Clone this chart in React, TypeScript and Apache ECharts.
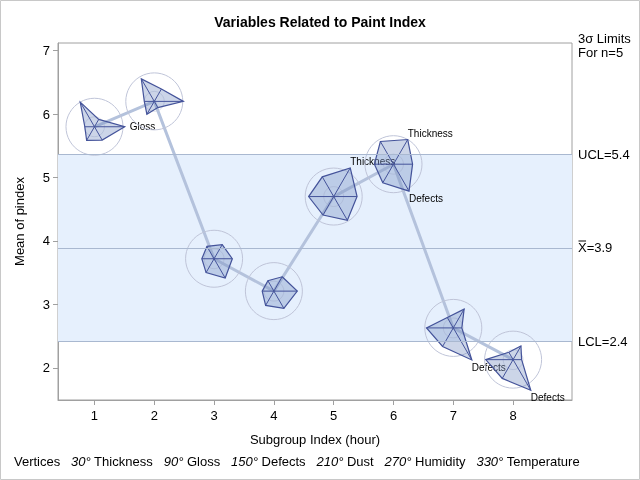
import React, { useEffect, useRef } from "react";
import * as echarts from "echarts";

const subgroups = [1, 2, 3, 4, 5, 6, 7, 8];
const means = [5.8, 6.2, 3.72, 3.21, 4.7, 5.21, 2.63, 2.13];
// vertex lengths relative to the reference circle radius
const thickness = [0.3, 0.5, 0.57, 0.58, 1.16, 1.0, 0.76, 0.55];
const gloss = [1.06, 1.02, 0.64, 0.82, 0.82, 0.67, 0.3, 0.3];
const defects = [0.54, 0.25, 0.78, 0.7, 0.96, 1.09, 1.3, 1.24];
const dust = [0.55, 0.52, 0.56, 0.58, 0.75, 0.75, 0.75, 0.76];
const humidity = [0.34, 0.35, 0.43, 0.41, 0.88, 0.67, 0.94, 0.96];
const temperature = [1.0, 0.91, 0.5, 0.42, 0.8, 0.92, 0.42, 0.3];
const vertexNames = ["Thickness", "Gloss", "Defects", "Dust", "Humidity", "Temperature"];
const vertexAngles = [30, 90, 150, 210, 270, 330];
const flagged = [["Gloss"], [], [], [], ["Thickness"], ["Thickness", "Defects"], ["Defects"], ["Defects"]];
const UCL = 5.36;
const CENTER = 3.89;
const LCL = 2.42;
const xTicks = [1, 2, 3, 4, 5, 6, 7, 8];
const yTicks = [2, 3, 4, 5, 6, 7];

const FONT = "'Liberation Sans', Arial, sans-serif";

export default function App() {
  const ref = useRef<HTMLDivElement>(null);
  useEffect(() => {
    if (!ref.current) return;
    const chart = echarts.init(ref.current, null, { renderer: "svg" });
    const R = 28.5;
    const starData = subgroups.map((x, i) => [
      x,
      means[i],
      thickness[i],
      gloss[i],
      defects[i],
      dust[i],
      humidity[i],
      temperature[i],
    ]);
    const renderItem = (params: any, api: any) => {
      const i = params.dataIndex;
      const c = api.coord([api.value(0), api.value(1)]);
      const pts: number[][] = [];
      for (let k = 0; k < 6; k++) {
        const a = (vertexAngles[k] * Math.PI) / 180;
        const r = api.value(2 + k) * R;
        pts.push([c[0] + Math.sin(a) * r, c[1] - Math.cos(a) * r]);
      }
      const children: any[] = [];
      children.push({
        type: "circle",
        shape: { cx: c[0], cy: c[1], r: R },
        style: { fill: "none", stroke: "#bfc4d8", lineWidth: 1 },
      });
      children.push({
        type: "circle",
        shape: { cx: c[0], cy: c[1], r: R * 0.35 },
        style: { fill: "none", stroke: "rgba(188,194,214,0.5)", lineWidth: 1 },
      });
      children.push({
        type: "polygon",
        shape: { points: pts },
        style: { fill: "rgba(120,145,195,0.38)", stroke: "#44539a", lineWidth: 1.2 },
      });
      pts.forEach((p) => {
        children.push({
          type: "line",
          shape: { x1: c[0], y1: c[1], x2: p[0], y2: p[1] },
          style: { stroke: "#44539a", lineWidth: 1 },
        });
      });
      flagged[i].forEach((name) => {
        const k = vertexNames.indexOf(name);
        const p = pts[k];
        let x = p[0];
        let y = p[1];
        let va = "middle";
        if (name === "Gloss") {
          x += 5;
        } else if (name === "Thickness") {
          y -= 1;
          va = "bottom";
        } else {
          y += 2;
          va = "top";
        }
        children.push({
          type: "text",
          x,
          y,
          style: {
            text: name,
            fill: "#000",
            font: `10px ${FONT}`,
            align: "left",
            verticalAlign: va,
          },
        });
      });
      return { type: "group", children };
    };

    chart.setOption({
      animation: false,
      textStyle: { fontFamily: FONT },
      title: {
        text: "Variables Related to Paint Index",
        left: "center",
        top: 10,
        textStyle: { fontSize: 14, fontWeight: "bold", color: "#000", fontFamily: FONT },
      },
      grid: {
        left: 58,
        right: 68,
        top: 43,
        bottom: 80,
        show: true,
        borderColor: "#a0a0a0",
        borderWidth: 1,
        backgroundColor: "transparent",
      },
      xAxis: {
        type: "value",
        min: 0.39,
        max: 8.985,
        name: "Subgroup Index (hour)",
        nameLocation: "middle",
        nameGap: 33,
        nameTextStyle: { fontSize: 13, color: "#000", fontFamily: FONT },
        axisLine: { show: true, lineStyle: { color: "#a0a0a0" } },
        axisTick: { show: true, customValues: xTicks, length: 5, lineStyle: { color: "#a0a0a0" } },
        axisLabel: { customValues: xTicks, fontSize: 13, color: "#000", margin: 9, fontFamily: FONT },
        splitLine: { show: false },
      },
      yAxis: {
        type: "value",
        min: 1.494,
        max: 7.12,
        name: "Mean of pindex",
        nameLocation: "middle",
        nameGap: 32,
        nameTextStyle: { fontSize: 13, color: "#000", fontFamily: FONT },
        axisLine: { show: true, lineStyle: { color: "#a0a0a0" } },
        axisTick: { show: true, customValues: yTicks, length: 5, lineStyle: { color: "#a0a0a0" } },
        axisLabel: { customValues: yTicks, fontSize: 13, color: "#000", margin: 8, fontFamily: FONT },
        splitLine: { show: false },
      },
      graphic: [
        {
          type: "rect",
          shape: { x: 0.5, y: 0.5, width: 639, height: 479 },
          style: { fill: "none", stroke: "#c8c8c8", lineWidth: 1 },
          silent: true,
        },
        {
          type: "text",
          left: 578,
          top: 31,
          style: { text: "3\u03C3 Limits\nFor n=5", font: `13px ${FONT}`, fill: "#000", lineHeight: 14 },
        },
        {
          type: "text",
          left: 14,
          top: 455,
          style: {
            text:
              "Vertices   {i|30°} Thickness   {i|90°} Gloss   {i|150°} Defects   {i|210°} Dust   {i|270°} Humidity   {i|330°} Temperature",
            font: `13px ${FONT}`,
            fill: "#000",
            rich: { i: { fontStyle: "italic", fontSize: 13, fontFamily: FONT, fill: "#000" } },
          },
        },
      ],
      series: [
        {
          type: "line",
          data: subgroups.map((x, i) => [x, means[i]]),
          symbol: "none",
          lineStyle: { color: "#b4c2dc", width: 3 },
          z: 2,
          markArea: {
            silent: true,
            itemStyle: { color: "#e6f0fd" },
            data: [[{ yAxis: LCL }, { yAxis: UCL }]],
          },
          markLine: {
            silent: true,
            symbol: "none",
            lineStyle: { color: "#a9b8d0", type: "solid", width: 1 },
            label: { position: "end", distance: 6, fontSize: 13, color: "#000", fontFamily: FONT },
            data: [
              { yAxis: UCL, label: { formatter: "UCL=5.4" } },
              { yAxis: CENTER, label: { formatter: "X\u033F=3.9" } },
              { yAxis: LCL, label: { formatter: "LCL=2.4" } },
            ],
          },
        },
        {
          type: "custom",
          renderItem,
          data: starData,
          z: 3,
          clip: false,
        },
      ],
    });
    return () => chart.dispose();
  }, []);
  return <div ref={ref} style={{ position: "fixed", left: 0, top: 0, width: 640, height: 480 }} />;
}
